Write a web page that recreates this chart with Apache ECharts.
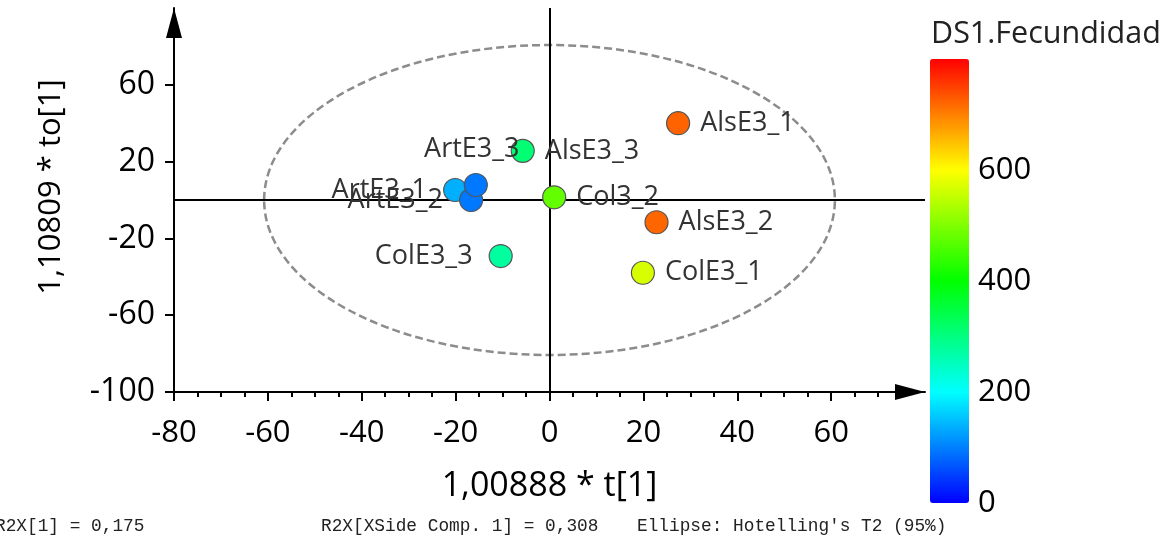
<!DOCTYPE html>
<html>
<head>
<meta charset="utf-8">
<script src="https://cdn.jsdelivr.net/npm/echarts@6/dist/echarts.min.js"></script>
<style>html,body{margin:0;padding:0;background:#fff}#c{width:1169px;height:539px}</style>
</head>
<body>
<div id="c"></div>
<script>
// ---- data ----
const sampleNames = ['AlsE3_1','AlsE3_2','AlsE3_3','ArtE3_1','ArtE3_2','ArtE3_3','Col3_2','ColE3_1','ColE3_3'];
const t1Values   = [27.4, 22.8, -5.7, -20.1, -16.7, -15.7, 1.0, 19.9, -10.4];
const to1Values  = [40.0, -11.6, 25.6, 5.2, 0.0, 7.8, 1.4, -37.9, -29.2];
const fecundidad = [722, 720, 310, 138, 94, 94, 478, 569, 275];
const xTickLabels = [-80, -60, -40, -20, 0, 20, 40, 60];
const yTickLabels = [-100, -60, -20, 20, 60];
const colorTickLabels = [0, 200, 400, 600];
const ellipseSemiAxes = [60.8, 80.7]; // Hotelling's T2 (95%)
const footnotes = ['R2X[1] = 0,175', 'R2X[XSide Comp. 1] = 0,308', "Ellipse: Hotelling's T2 (95%)"];

// ---- styles (label placement) ----
const labelPlacement = {
  AlsE3_1: {position: 'right', distance: 10},
  AlsE3_2: {position: 'right', distance: 10},
  AlsE3_3: {position: 'right', distance: 10},
  ArtE3_1: {position: 'left', distance: 16},
  ArtE3_2: {position: 'left', distance: 16},
  ArtE3_3: {position: 'top', distance: 10, offset: [-4, 0]},
  Col3_2:  {position: 'right', distance: 10},
  ColE3_1: {position: 'right', distance: 10},
  ColE3_3: {position: 'left', distance: 16}
};
const footnoteLeft = [-5, 321, 637];

const FONT = '"Open Sans", "Noto Sans", sans-serif';
const chart = echarts.init(document.getElementById('c'), null, {renderer: 'canvas'});

const scatterData = sampleNames.map((n, i) => ({
  name: n,
  value: [t1Values[i], to1Values[i], fecundidad[i]],
  label: labelPlacement[n]
}));

chart.setOption({
  animation: false,
  backgroundColor: '#ffffff',
  grid: [
    {left: 174, right: 244, top: 8, bottom: 147, containLabel: false},
    {left: 930, top: 59, width: 39, height: 444, containLabel: false}
  ],
  xAxis: [{
    type: 'value', gridIndex: 0, min: -80, max: 80, interval: 20,
    axisLine: {onZero: false, lineStyle: {color: '#000', width: 2},
      symbol: ['none', 'triangle'], symbolSize: [16, 30], symbolOffset: [0, -15]},
    axisTick: {show: true, length: 9, lineStyle: {color: '#000', width: 2},
      customValues: xTickLabels},
    minorTick: {show: true, splitNumber: 4, length: 5, lineStyle: {color: '#000', width: 2}},
    splitLine: {show: false},
    axisLabel: {color: '#000', fontSize: 31, fontFamily: FONT, margin: 26, customValues: xTickLabels},
    name: '1,00888 * t[1]', nameLocation: 'middle', nameGap: 77,
    nameTextStyle: {color: '#000', fontSize: 34, fontFamily: FONT}
  }, {
    type: 'value', gridIndex: 1, show: false, min: 0, max: 1
  }],
  yAxis: [{
    type: 'value', gridIndex: 0, min: -100, max: 100, interval: 40,
    axisLine: {onZero: false, lineStyle: {color: '#000', width: 2},
      symbol: ['none', 'triangle'], symbolSize: [16, 30], symbolOffset: [0, -15]},
    axisTick: {show: true, length: 9, lineStyle: {color: '#000', width: 2},
      customValues: yTickLabels},
    splitLine: {show: false},
    axisLabel: {color: '#000', fontSize: 32, fontFamily: FONT, margin: 19, customValues: yTickLabels},
    name: '1,10809 * to[1]', nameLocation: 'middle', nameGap: 107, nameRotate: 90,
    nameTextStyle: {color: '#000', fontSize: 31, fontFamily: FONT, padding: [0, 0, 0, 26]}
  }, {
    type: 'value', gridIndex: 1, position: 'right', min: 0, max: 800, interval: 200,
    axisLine: {show: false}, axisTick: {show: false}, splitLine: {show: false},
    axisLabel: {color: '#000', fontSize: 31, fontFamily: FONT, margin: 9, customValues: colorTickLabels}
  }],
  visualMap: {
    type: 'continuous', seriesIndex: 2, dimension: 2, min: 0, max: 800,
    left: 930, top: 59, itemWidth: 39, itemHeight: 444, padding: 0,
    calculable: false, hoverLink: false, realtime: false, showLabel: false,
    inRange: {color: ['#0000ff', '#00ffff', '#00ff00', '#ffff00', '#ff0000']}
  },
  title: [{
    text: 'DS1.Fecundidad', left: 931, top: 19, padding: 0,
    textStyle: {color: '#222', fontSize: 30.5, fontWeight: 'normal', fontFamily: FONT}
  }].concat(footnotes.map((t, i) => ({
    text: t, left: footnoteLeft[i], top: 517, padding: 0,
    textStyle: {color: '#222', fontSize: 17.8, fontWeight: 'normal', fontFamily: '"Liberation Mono", "DejaVu Sans Mono", monospace'}
  }))),
  series: [{
    type: 'custom', xAxisIndex: 0, yAxisIndex: 0, z: 1, silent: true,
    data: [[0, 0]],
    renderItem: function (params, api) {
      const c = api.coord([api.value(0), api.value(1)]);
      const s = api.size([ellipseSemiAxes[0], ellipseSemiAxes[1]]);
      return {
        type: 'ellipse',
        shape: {cx: c[0], cy: c[1], rx: s[0], ry: s[1]},
        style: {fill: 'none', stroke: '#8c8c8c', lineWidth: 2.5, lineDash: [8, 4]}
      };
    },
    markLine: {
      silent: true, symbol: 'none', animation: false,
      label: {show: false},
      lineStyle: {color: '#000', width: 2, type: 'solid'},
      data: [{xAxis: 0}, {yAxis: 0}]
    }
  }, {
    type: 'scatter', xAxisIndex: 1, yAxisIndex: 1, data: []
  }, {
    type: 'scatter', xAxisIndex: 0, yAxisIndex: 0, z: 5,
    symbolSize: 23,
    itemStyle: {borderColor: '#555', borderWidth: 1.2, opacity: 1},
    label: {show: true, formatter: '{b}', color: '#333', fontSize: 27, fontFamily: FONT},
    emphasis: {disabled: true},
    data: scatterData
  }]
});
</script>
</body>
</html>
